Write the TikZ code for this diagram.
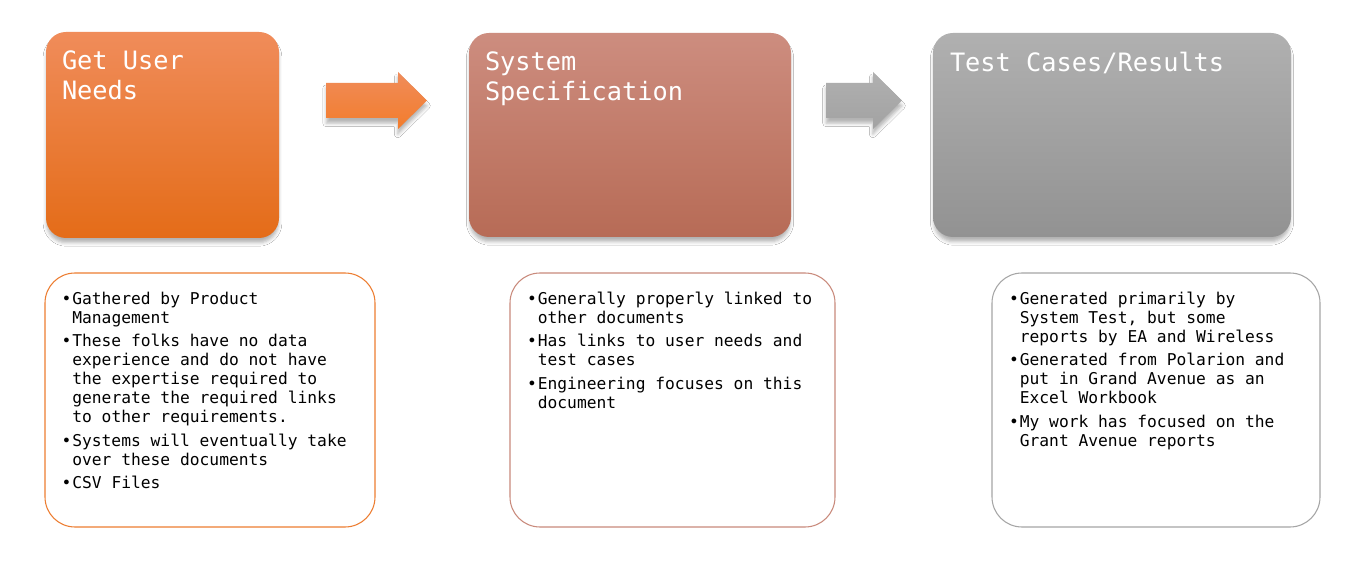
\documentclass[tikz,border=0pt]{standalone}
\usepackage{fontspec}
\setmonofont{DejaVu Sans Mono}
\usetikzlibrary{calc,shadows.blur}
\definecolor{ordtop}{HTML}{F08C5A}
\definecolor{ordmid}{HTML}{F47E2E}
\definecolor{ordbot}{HTML}{E46C18}
\definecolor{rustop}{HTML}{CD8D7F}
\definecolor{rusmid}{HTML}{C97B6A}
\definecolor{rusbot}{HTML}{B76B56}
\definecolor{grytop}{HTML}{B0B0B0}
\definecolor{grymid}{HTML}{A5A5A5}
\definecolor{grybot}{HTML}{929292}
\definecolor{ordline}{HTML}{ED7D31}
\definecolor{rusline}{HTML}{C98A7C}
\definecolor{gryline}{HTML}{A5A5A5}
\newcommand{\itm}{\llap{\textbullet\kern0.5pt}}
\newcommand{\flowarrow}[3]{% style, tail point, shaft length
  \path[#1] (#2) ++(0,0.35) -- ++(#3,0) -- ++(0,0.22) -- ++(0.58,-0.57)
    -- ++(-0.58,-0.57) -- ++(0,0.22) -- ++(-#3,0) -- cycle;}
\tikzset{
  soft/.style={blur shadow={shadow xshift=0pt, shadow yshift=-3pt, shadow scale=0.995, shadow blur radius=2pt, shadow opacity=30}},
  stage/.style={rounded corners=0.4cm, minimum height=4.08cm, inner sep=0pt, soft},
  ttl/.style={anchor=north west, inner sep=0pt, align=left, text=white,
    font=\ttfamily\fontsize{14.4pt}{17.07pt}\selectfont},
  notes/.style={rounded corners=0.6cm, minimum height=5.08cm, inner sep=0pt, line width=0.6pt, fill=white},
  txt/.style={anchor=north west, inner sep=0pt, align=left, text=black,
    font=\ttfamily\fontsize{9.26pt}{10.8pt}\selectfont},
  ordarrow/.style={top color=ordtop, bottom color=ordmid!90!ordbot, soft},
  gryarrow/.style={top color=grytop, bottom color=grymid!85!grybot, soft},
}

\begin{document}
\begin{tikzpicture}
  \useasboundingbox[fill=white] (0,0) rectangle (27.18,-11.58);
  % stages
  \node[stage, minimum width=4.66cm, minimum height=4.12cm, top color=ordtop, middle color=ordmid, bottom color=ordbot] (needs) at (3.25,-2.70) {};
  \node[stage, minimum width=6.44cm, top color=rustop, middle color=rusmid, bottom color=rusbot] (spec) at (12.60,-2.70) {};
  \node[stage, minimum width=7.16cm, top color=grytop, middle color=grymid, bottom color=grybot] (tests) at (22.24,-2.70) {};
  \node[ttl] (needsttl) at ($(needs.north west)+(0.32,-0.38)$) {Get User\\Needs};
  \node[ttl] (specttl) at ($(spec.north west)+(0.32,-0.38)$) {System\\Specification};
  \node[ttl] (teststtl) at ($(tests.north west)+(0.34,-0.38)$) {Test Cases/Results};
  % flow arrows
  \coordinate (f1) at (6.52,-2.01);
  \coordinate (f2) at (16.52,-2.01);
  \flowarrow{ordarrow}{f1}{1.44}
  \flowarrow{gryarrow}{f2}{0.94}
  % notes
  \node[notes, draw=ordline, minimum width=6.60cm] (needsbox) at (4.20,-8.00) {};
  \node[notes, draw=rusline, minimum width=6.50cm] (specbox) at (13.45,-8.00) {};
  \node[notes, draw=gryline, minimum width=6.56cm] (testsbox) at (23.12,-8.00) {};
  \node[txt] (needstxt) at ($(needsbox.north west)+(0.55,-0.38)$) {%
    \itm Gathered by Product\\Management\\[0.09cm]
    \itm These folks have no data\\experience and do not have\\the expertise required to\\generate the required links\\to other requirements.\\[0.09cm]
    \itm Systems will eventually take\\over these documents\\[0.09cm]
    \itm CSV Files};
  \node[txt] (spectxt) at ($(specbox.north west)+(0.56,-0.38)$) {%
    \itm Generally properly linked to\\other documents\\[0.09cm]
    \itm Has links to user needs and\\test cases\\[0.09cm]
    \itm Engineering focuses on this\\document};
  \node[txt] (teststxt) at ($(testsbox.north west)+(0.56,-0.38)$) {%
    \itm Generated primarily by\\System Test, but some\\reports by EA and Wireless\\[0.09cm]
    \itm Generated from Polarion and\\put in Grand Avenue as an\\Excel Workbook\\[0.09cm]
    \itm My work has focused on the\\Grant Avenue reports};
\end{tikzpicture}
\end{document}
